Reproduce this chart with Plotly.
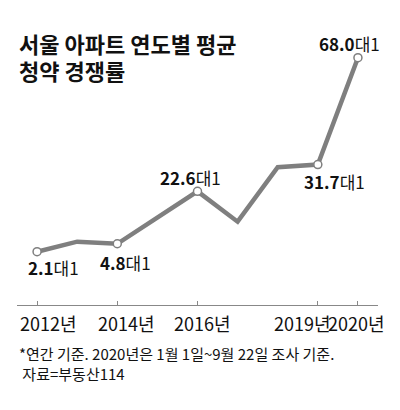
import plotly.graph_objects as go

years = [2012, 2013, 2014, 2015, 2016, 2017, 2018, 2019, 2020]
ratios = [2.1, 5.5, 4.8, 13.7, 22.6, 12.3, 30.8, 31.7, 68.0]
label_years = [2012, 2014, 2016, 2019, 2020]
label_values = [2.1, 4.8, 22.6, 31.7, 68.0]
tick_years = [2012, 2014, 2016, 2019, 2020]
tick_text = ["2012년", "2014년", "2016년", "2019년", "2020년"]
tick_shift = {2012: 11, 2014: 9, 2016: 5, 2019: -15, 2020: -1}
label_shift = {2012: (16, -16), 2014: (8, -19), 2016: (-7, 14), 2019: (17, -17), 2020: (-8, 14)}

FONT = "Noto Sans CJK KR"
NARROW = "Liberation Sans Narrow, Noto Sans CJK KR"
fig = go.Figure()
fig.add_trace(go.Scatter(x=years, y=ratios, mode="lines",
                         line=dict(color="#7f7f7f", width=4.5), hoverinfo="skip"))
fig.add_trace(go.Scatter(x=label_years, y=label_values, mode="markers",
                         marker=dict(size=8, color="white", line=dict(color="#7f7f7f", width=1.5)),
                         hoverinfo="skip"))

anns = []
for yr, v in zip(label_years, label_values):
    dx, dy = label_shift[yr]
    anns.append(dict(x=yr, y=v, xref="x", yref="y", showarrow=False,
                     xshift=dx, yshift=dy,
                     text=f"<b>{v:.1f}</b>대1",
                     font=dict(family=FONT, size=17, color="#111")))

for yr, t in zip(tick_years, tick_text):
    anns.append(dict(x=yr, y=0, xref="x", yref="paper", showarrow=False,
                     xanchor="center", yanchor="middle",
                     xshift=tick_shift[yr], yshift=-18,
                     text=t, font=dict(family=NARROW, size=18, color="#111")))

for txt, ys in (("<b>서울 아파트 연도별 평균</b>", -3), ("<b>청약 경쟁률</b>", -30)):
    anns.append(dict(x=0, y=1, xref="paper", yref="paper", showarrow=False,
                     xanchor="left", yanchor="middle", yshift=ys,
                     text=txt, font=dict(family=FONT, size=22, color="#111")))
anns.append(dict(x=0, y=0, xref="paper", yref="paper", showarrow=False,
                 xanchor="left", yanchor="middle", yshift=-58, align="left",
                 text="*연간 기준. 2020년은 1월 1일~9월 22일 조사 기준.<br> 자료=부동산114",
                 font=dict(family=FONT, size=15, color="#111")))

fig.update_layout(
    width=392, height=402,
    margin=dict(l=9, r=22, t=32, b=105, autoexpand=False),
    paper_bgcolor="white", plot_bgcolor="white",
    showlegend=False,
    font=dict(family=FONT, color="#111"),
    xaxis=dict(range=[2011.5, 2020.5], tickvals=tick_years, showticklabels=False,
               showgrid=False, zeroline=False, showline=True, linecolor="#888", linewidth=1,
               ticks="inside", ticklen=4, tickcolor="#888", automargin=False),
    yaxis=dict(range=[-16.0, 74.0], visible=False, showgrid=False, zeroline=False,
               automargin=False),
    annotations=anns,
)
fig.write_html("out.html")
